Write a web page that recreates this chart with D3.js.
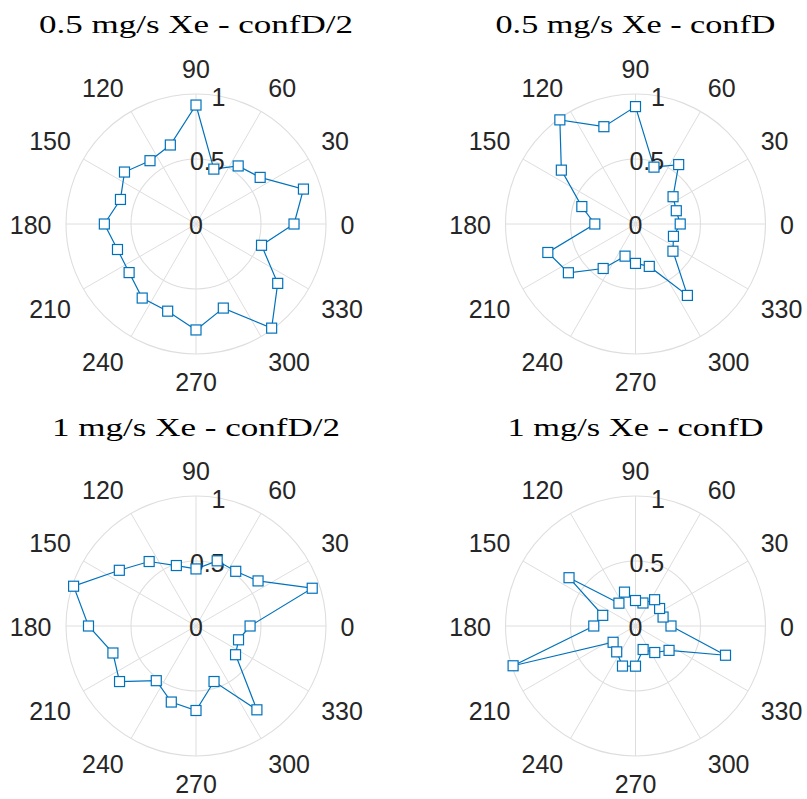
<!DOCTYPE html>
<html>
<head>
<meta charset="utf-8">
<script src="https://cdn.jsdelivr.net/npm/d3@7/dist/d3.min.js"></script>
<style>
  html, body { margin: 0; padding: 0; background: #ffffff; }
  svg { display: block; }
</style>
</head>
<body>
<svg id="chart" width="807" height="799"></svg>
<script>
// ---- data ----
const angles = [0, 18, 36, 54, 72, 90, 108, 126, 144, 162, 180, 198, 216, 234, 252, 270, 288, 306, 324, 342];
const titles = ["0.5 mg/s Xe - confD/2", "0.5 mg/s Xe - confD", "1 mg/s Xe - confD/2", "1 mg/s Xe - confD"];
const r_05_confD2 = [0.754, 0.869, 0.61, 0.552, 0.444, 0.915, 0.639, 0.602, 0.68, 0.611, 0.705, 0.635, 0.636, 0.704, 0.705, 0.815, 0.68, 0.99, 0.777, 0.53];
const r_05_confD  = [0.344, 0.33, 0.357, 0.565, 0.46, 0.903, 0.787, 0.99, 0.705, 0.434, 0.313, 0.709, 0.638, 0.423, 0.26, 0.303, 0.343, 0.679, 0.356, 0.307];
const r_1_confD2  = [0.416, 0.94, 0.59, 0.52, 0.527, 0.439, 0.489, 0.613, 0.729, 0.99, 0.827, 0.672, 0.727, 0.52, 0.615, 0.65, 0.449, 0.797, 0.376, 0.344];
const r_1_confD   = [0.273, 0.223, 0.229, 0.25, 0.186, 0.196, 0.274, 0.217, 0.632, 0.265, 0.321, 0.99, 0.213, 0.246, 0.324, 0.309, 0.19, 0.252, 0.319, 0.728];
const seriesList = [r_05_confD2, r_05_confD, r_1_confD2, r_1_confD];
const thetaTicks = [0, 30, 60, 90, 120, 150, 180, 210, 240, 270, 300, 330];
const rTicks = [0, 0.5, 1];

// ---- layout ----
const svg = d3.select("#chart");
const centersX = [196, 635.5];
const centersY = [224, 626];
const titleBaselines = [33, 436];
const titleWidths = [314, 280, 288, 256];
const R = 130;
const blue = "#0072BD";
const gridColor = "#dedede";
const textColor = "#262626";

const rScale = d3.scaleLinear().domain([0, 1]).range([0, R]);
const toRad = d => d * Math.PI / 180;
const sgn = v => (Math.abs(v) < 1e-6 ? 0 : Math.sign(v));

seriesList.forEach((vals, i) => {
  const col = i % 2, row = Math.floor(i / 2);
  const cx = centersX[col], cy = centersY[row];
  const g = svg.append("g").attr("transform", `translate(${cx},${cy})`);

  // spokes
  g.selectAll("line.spoke").data(thetaTicks).join("line")
    .attr("x1", 0).attr("y1", 0)
    .attr("x2", d => rScale(1) * Math.cos(toRad(d)))
    .attr("y2", d => -rScale(1) * Math.sin(toRad(d)))
    .attr("stroke", gridColor).attr("stroke-width", 1);
  // circles
  g.selectAll("circle.grid").data(rTicks.filter(d => d > 0)).join("circle")
    .attr("r", d => rScale(d)).attr("fill", "none")
    .attr("stroke", gridColor).attr("stroke-width", 1.1);

  // theta labels: aligned outward from a point on a circle of radius rho
  const rho = 144.5, hh = 12;
  thetaTicks.forEach(t => {
    const a = toRad(t);
    const txt = g.append("text").text(t)
      .attr("font-family", "'Liberation Sans', Arial, sans-serif")
      .attr("font-size", 25).attr("fill", textColor)
      .attr("text-anchor", "middle").attr("dominant-baseline", "central");
    const hw = txt.node().getBBox().width / 2;
    const c = Math.cos(a), s = Math.sin(a);
    const x = rho * c + hw * sgn(c);
    const y = -(rho * s + hh * sgn(s));
    txt.attr("x", x).attr("y", y + 1);
  });

  // data line (closed)
  const pts = angles.map((a, k) => [a, vals[k]]);
  const closed = pts.concat([pts[0]]);
  const line = d3.lineRadial()
    .angle(d => toRad(90 - d[0]))
    .radius(d => rScale(d[1]));
  g.append("path").attr("d", line(closed))
    .attr("fill", "none").attr("stroke", blue).attr("stroke-width", 1.2);

  // r labels at 80 degrees
  rTicks.forEach(rv => {
    const a = toRad(80);
    g.append("text").text(rv)
      .attr("x", rScale(rv) * Math.cos(a))
      .attr("y", -rScale(rv) * Math.sin(a) + 1)
      .attr("font-family", "'Liberation Sans', Arial, sans-serif")
      .attr("font-size", 25).attr("fill", textColor)
      .attr("text-anchor", "middle").attr("dominant-baseline", "central");
  });

  // markers
  const ms = 10;
  g.selectAll("rect.mk").data(pts).join("rect")
    .attr("x", d => rScale(d[1]) * Math.cos(toRad(d[0])) - ms / 2)
    .attr("y", d => -rScale(d[1]) * Math.sin(toRad(d[0])) - ms / 2)
    .attr("width", ms).attr("height", ms)
    .attr("fill", "#ffffff").attr("stroke", blue).attr("stroke-width", 1.2);

  // title
  svg.append("text").text(titles[i])
    .attr("x", cx).attr("y", titleBaselines[row])
    .attr("text-anchor", "middle")
    .attr("font-family", "'Liberation Serif', 'Times New Roman', serif")
    .attr("font-size", 26).attr("fill", "#000000")
    .attr("textLength", titleWidths[i]).attr("lengthAdjust", "spacingAndGlyphs");
});
</script>
</body>
</html>
